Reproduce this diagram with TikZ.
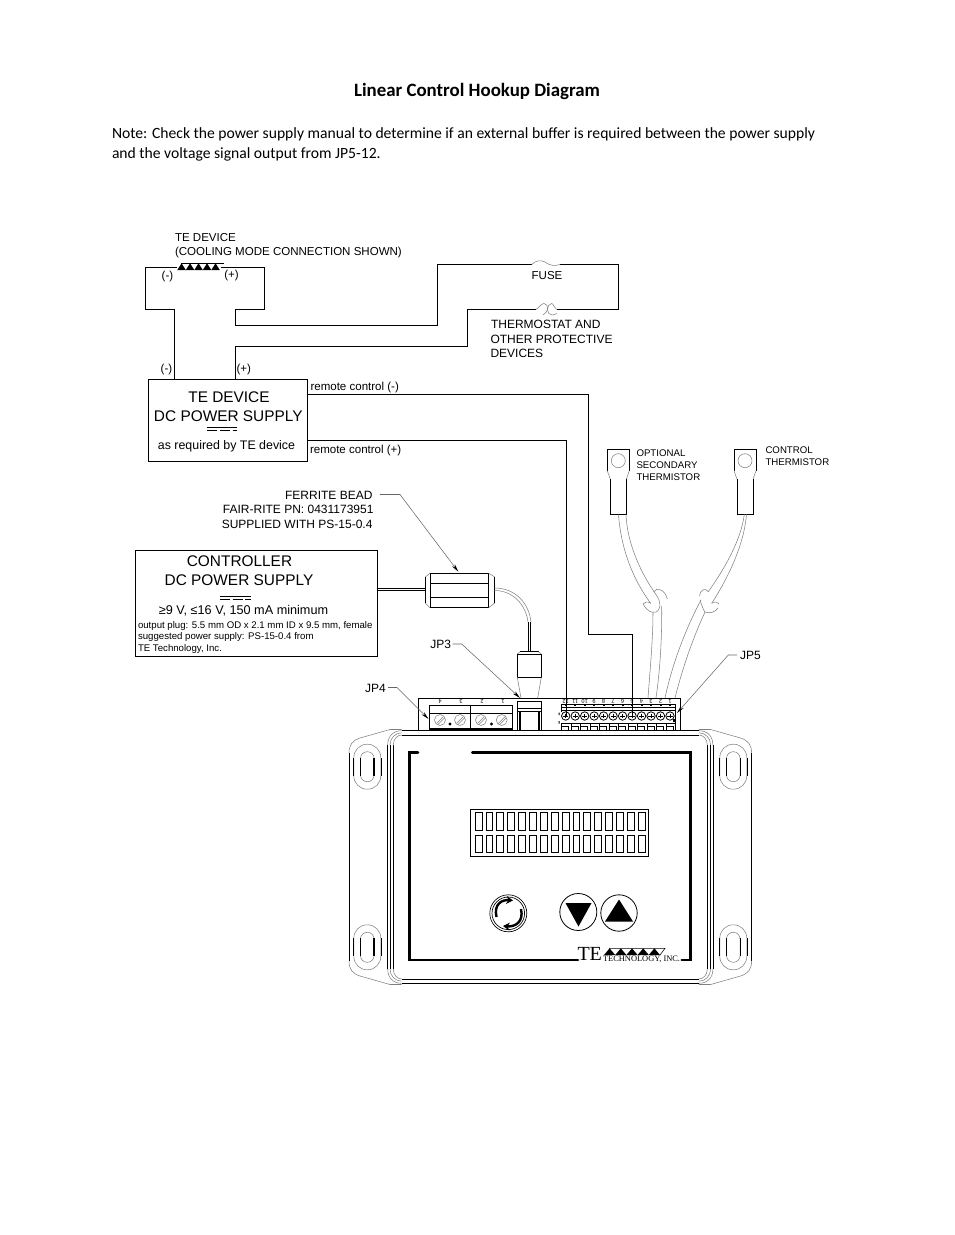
\documentclass[tikz,border=0pt]{standalone}
\usepackage{fontspec}
\setmainfont{Liberation Sans}
\newfontfamily\carlito{Carlito}
\newfontfamily\lserif{Liberation Serif}
\usetikzlibrary{arrows.meta}
\tikzset{
  wire/.style={line width=.75pt,black,line join=miter},
  thin gray/.style={line width=.4pt,black!50},
  leader/.style={line width=.4pt,black!60,-{Stealth[black,length=6pt,width=2.6pt]}},
  txt/.style={inner sep=0pt,outer sep=0pt,text depth=0pt},
  fa/.style={txt,font=\fontsize{8.65}{10}\selectfont,text height=6.2pt},
  fb/.style={txt,font=\fontsize{11.55}{13}\selectfont,text height=8.3pt},
  fc/.style={txt,font=\fontsize{9}{11}\selectfont,text height=6.5pt},
  fcc/.style={txt,font=\fontsize{9.3}{11}\selectfont,text height=6.7pt},
  fcd/.style={txt,font=\fontsize{9.5}{11}\selectfont,text height=6.8pt},
  fd/.style={txt,font=\fontsize{7.23}{8}\selectfont,text height=5.2pt},
  fe/.style={txt,font=\fontsize{7.25}{8}\selectfont,text height=5.2pt},
  ft/.style={txt,font=\fontsize{4.2}{4}\selectfont,text height=3pt,rotate=180},
  box/.style={draw,line width=.75pt,inner sep=0pt,outer sep=0pt},
}
\begin{document}
\begin{tikzpicture}[x=0.75pt,y=-0.75pt]
\useasboundingbox (0,0) rectangle (954,1235);
\fill[white] (0,0) rectangle (954,1235);
% heading
\node[txt,anchor=base] (title) at (477,96.5) {\carlito\bfseries\fontsize{14.15}{18}\selectfont Linear Control Hookup Diagram};
\node[txt,anchor=base west] (note1) at (112,138) {\carlito\fontsize{11.73}{15}\selectfont Note: Check the power supply manual to determine if an external buffer is required between the power supply};
\node[txt,anchor=base west] (note2) at (112,158) {\carlito\fontsize{11.73}{15}\selectfont and the voltage signal output from JP5-12.};
% TE device symbol and labels
\node[fa,anchor=west] (td1) at (175,237.5) {TE DEVICE};
\node[fa,anchor=west] (td2) at (175,251.5) {(COOLING MODE CONNECTION SHOWN)};
\foreach \i in {0,...,4} \fill (177.3+8.5*\i,270) -- ++(8.5,0) -- ++(-4.25,-6.7) -- cycle;
\draw[line width=.5pt] (181,263.4) -- (224,263.4);
\node[fa,anchor=west] (lm1) at (161.7,275) {(-)};
\node[fa,anchor=west] (lp1) at (224.3,274.5) {(+)};
\node[fa,anchor=west] (lm2) at (160.7,368.5) {(-)};
\node[fa,anchor=west] (lp2) at (236.5,368.5) {(+)};
% boxes
\node[box,minimum width=159*0.75pt,minimum height=82*0.75pt] (psu) at (228,420.5) {};
\node[box,minimum width=242*0.75pt,minimum height=106*0.75pt] (ctl) at (256.5,603.5) {};
% PSU text
\node[fb,anchor=center] (p1) at (229,397) {TE DEVICE};
\node[fb,anchor=center] (p2) at (228.3,416) {DC POWER SUPPLY};
\draw[line width=.5pt] (207.3,427.5) -- (237.3,427.5);
\draw[line width=.5pt,dash pattern=on 7.5pt off 2pt] (207.3,430.7) -- (237.3,430.7);
\node[fcc,anchor=center] (p3) at (226.5,445.5) {as required by TE device};
% Controller text
\node[fb,anchor=center] (c1) at (239.5,561) {CONTROLLER};
\node[fb,anchor=center] (c2) at (239,579.5) {DC POWER SUPPLY};
\draw[line width=.5pt] (220,596.7) -- (250.7,596.7);
\draw[line width=.5pt,dash pattern=on 7.5pt off 2pt] (220,599.2) -- (250.7,599.2);
\node[fcd,anchor=center] (c3) at (243.5,610) {≥9 V, ≤16 V, 150 mA minimum};
\node[fd,anchor=west] (c4) at (138,625) {output plug: 5.5 mm OD x 2.1 mm ID x 9.5 mm, female};
\node[fd,anchor=west] (c5) at (138,636) {suggested power supply: PS-15-0.4 from};
\node[fd,anchor=west] (c6) at (138,648) {TE Technology, Inc.};
% Named wire ends
\coordinate (tem) at (177.3,267.5);
\coordinate (tep) at (220.5,267.5);
\coordinate (psum) at (psu.north -| 174.5,0);
\coordinate (psup) at (psu.north -| 235.5,0);
\coordinate (rcm) at (psu.east |- 0,394.5);
\coordinate (rcp) at (psu.east |- 0,440.5);
\coordinate (fa) at (531.7,264.5);
\coordinate (fb) at (560,264.5);
\coordinate (tha) at (536,309.5);
\coordinate (thb) at (556.7,309.5);
\coordinate (s12) at (566.5,716);
\coordinate (s5) at (632.5,716);
% wires
\draw[wire] (tem) -- (145.5,267.5) -- (145.5,309.5) -- (174.5,309.5) -- (psum);
\draw[wire] (tep) -- (264.5,267.5) -- (264.5,309.5) -- (235.5,309.5) -- (235.5,325.5) -- (437.5,325.5) -- (437.5,264.5) -- (fa);
\draw[wire] (fb) -- (618.5,264.5) -- (618.5,309.5) -- (thb);
\draw[wire] (tha) -- (467.5,309.5) -- (467.5,346.5) -- (235.5,346.5) -- (psup);
\draw[wire] (rcm) -- (588.5,394.5) -- (588.5,634.5) -- (632.5,634.5) -- (s5);
\draw[wire] (rcp) -- (566.5,440.5) -- (s12);
\draw[thin gray] (fa) .. controls (536,260) and (541,260) .. (545,262) .. controls (550,266) and (555,266) .. (fb);
\draw[thin gray] (tha) .. controls (539,308) and (541,303.5) .. (544,303.5) .. controls (549,304) and (549,312) .. (543,315);
\draw[thin gray] (thb) .. controls (554,307) and (553,303.5) .. (551.7,303.5) .. controls (546,304) and (546,315) .. (552,315) .. controls (553.5,315) and (555,314.5) .. (556.7,313.5);
\node[fa,anchor=center] (fuse) at (547,275) {FUSE};
\node[fc,anchor=west] (th1) at (491,324) {THERMOSTAT AND};
\node[fc,anchor=west] (th2) at (490.5,339) {OTHER PROTECTIVE};
\node[fc,anchor=west] (th3) at (490.5,353) {DEVICES};
\node[fa,anchor=west] (rc1) at (310.5,386.5) {remote control (-)};
\node[fa,anchor=west] (rc2) at (310,449) {remote control (+)};
% Ferrite
\node[fc,anchor=east] (fr1) at (372.5,495) {FERRITE BEAD};
\node[fc,anchor=east] (fr2) at (373.5,509.5) {FAIR-RITE PN: 0431173951};
\node[fc,anchor=east] (fr3) at (372.5,524) {SUPPLIED WITH PS-15-0.4};
\draw[leader] (380,494.5) -- (400,494.5) -- (458.3,571.7);
\draw[line width=.6pt] (430,573.3) rectangle (488.7,607.7);
\draw[line width=.6pt] (430,583.3) -- (488.7,583.3) (430,597.3) -- (488.7,597.3);
\draw[line width=.6pt] (425.3,577) -- (425.3,603) (494.7,577) -- (494.7,603);
\draw[thin gray] (425.3,577) -- (430,573.3) (425.3,603) -- (430,607.7) (494.7,577) -- (488.7,573.3) (494.7,603) -- (488.7,607.7);
\draw[line width=.5pt] (ctl.east |- 0,588.3) -- (425.3,588.3) (ctl.east |- 0,590.6) -- (425.3,590.6);
\draw[thin gray] (494.7,588) .. controls (515,588) and (529,603) .. (531,622);
\draw[thin gray] (494.7,590.5) .. controls (513,590.5) and (526,605) .. (528,622);
\draw[line width=.6pt] (528.2,622) -- (528.2,652) (530.4,622) -- (530.4,652);
% Plug
\draw[line width=.6pt] (517.3,654) rectangle (541.3,677.3);
\draw[line width=.8pt] (520,651.7) -- (538.5,651.7);
\draw[thin gray] (517.3,654) -- (520,651.7) (541.3,654) -- (538.5,651.7);
\draw[thin gray] (517.3,677.3) -- (521,698) (541.3,677.3) -- (537.7,698);
% connector board
\draw[line width=.6pt] (418.3,730) -- (418.3,698.3) -- (680.7,698.3) -- (680.7,730);
% JP3
\draw[line width=.7pt] (517.3,730) -- (517.3,701.7) -- (541.7,701.7) -- (541.7,730);
\draw[line width=.5pt] (517.3,708) -- (541.7,708) (517.3,711.7) -- (541.7,711.7);
\draw[line width=.8pt] (520,730) -- (520,712) (539,730) -- (539,712);
% JP4
\draw[line width=.6pt] (429.3,729.3) -- (429.3,705.7) -- (512.7,705.7) -- (512.7,729.3);
\draw[line width=1.3pt] (429.3,729.3) -- (512.7,729.3);
\draw[line width=.6pt] (429.3,713.3) -- (512.7,713.3) (470.3,705.7) -- (470.3,729.3);
\foreach \x in {440,460,481,501.7} {
  \draw[thin gray] (\x,720) circle[radius=5.5*0.75pt];
  \draw[thin gray] ({\x-3.5},723.5) -- ({\x+3.5},716.5) ({\x-2},724.5) -- ({\x+4.5},718);
}
\fill (450,724) circle[radius=1.2pt] (491.5,724) circle[radius=1.2pt];
\foreach \x/\n in {440/4,461/3,482/2,503/1} \node[ft] (jf\n) at (\x,701.5) {\n};
% JP5
\foreach \i/\n in {0/12,1/11,2/10,3/9,4/8,5/7,6/6,7/5,8/4,9/3,10/2,11/1} {
  \pgfmathsetmacro\xx{565.7+9.48*\i}
  \node[ft] (jg\n) at (\xx,701.5) {\n};
  \draw[line width=.6pt] (\xx,716) circle[radius=4.2*0.75pt];
  \draw[line width=.7pt] ({\xx-2.6},716) -- ({\xx+2.6},716) (\xx,713.6) -- (\xx,718.4);
  \draw[line width=.4pt] ({\xx-4},723.3) -- ({\xx-4},730) ({\xx+3},726) -- ({\xx+3},730) ({\xx-4},726) -- ({\xx+3},726);
  \fill ({\xx-1},704.2) rectangle ({\xx+1},705.6);
}
\draw[line width=.5pt] (561.7,704.3) -- (675.7,704.3);
\draw[line width=.5pt] (561.7,707) -- (675.7,707);
\draw[line width=.9pt] (561.7,710.5) -- (675.7,710.5);
\draw[line width=.5pt] (561.7,723.3) -- (675.7,723.3);
\draw[line width=.5pt] (675.7,704.3) -- (675.7,730);
\draw[line width=.5pt] (561.7,704.3) -- (561.7,712);
\fill (558.7,712.5) rectangle (559.7,715) (558.7,721) rectangle (559.7,723.5) (673,719) rectangle (675,722);
% Leaders
\node[fc,anchor=west] (jp3) at (430.3,644.5) {JP3};
\node[fc,anchor=west] (jp4) at (365,688.5) {JP4};
\node[fc,anchor=west] (jp5) at (740,655) {JP5};
\draw[leader] (452.5,644) -- (461.7,644) -- (520,698);
\draw[leader] (388,687.5) -- (397,687.5) -- (428.5,719);
\draw[leader] (737,655) -- (728.3,655) -- (677,713);
% Enclosure corners
\foreach \sx in {1,-1} \foreach \sy in {1,-1} {
\begin{scope}[shift={(550.3,857)},xscale=\sx,yscale=\sy]
  \draw[thin gray] (-201.3,-104) .. controls (-201.3,-112) and (-198,-116.5) .. (-190.3,-119) -- (-160.3,-127.5) -- (-148.6,-127.5);
  \draw[line width=.7pt] (-201.3,-104) -- (-201.3,0);
  \draw[line width=.6pt] (-162.6,-112) -- (-162.6,0) (-160.3,-112) -- (-160.3,0) (-157,-112) -- (-157,0);
  \draw[thin gray] (-162.6,-112) .. controls (-162.6,-121) and (-157,-126.3) .. (-148.6,-126.3);
  \draw[thin gray] (-160.3,-112) .. controls (-160.3,-119) and (-155,-124.2) .. (-148.6,-124.2);
  \draw[thin gray] (-157,-112) .. controls (-157,-118) and (-153,-122) .. (-148.6,-122);
  \draw[line width=.8pt] (-148.6,-126.3) -- (0,-126.3);
  \draw[line width=.7pt] (-148.6,-122) -- (0,-122);
  \draw[thin gray,rounded corners=10pt] (-196.5,-112.8) rectangle (-169.5,-67.8);
  \draw[thin gray,rounded corners=5pt] (-189.8,-105.3) rectangle (-176.2,-75.3);
  \draw[line width=.6pt] (-197,-99) -- (-197,-81);
  \draw[line width=.9pt] (-169,-99) -- (-169,-81);
  \draw[line width=.6pt] (-189.8,-99) -- (-189.8,-81);
  \draw[line width=1pt] (-176.2,-99) -- (-176.2,-81);
\end{scope}
}
% thick frame
\draw[line width=1.9pt,line cap=round] (418,752.7) -- (409.3,752.7) -- (409.3,960) -- (578,960);
\draw[line width=1.9pt,line cap=round] (472.3,752.7) -- (690.5,752.7) -- (690.5,960) -- (681.7,960);
% LCD
\draw[line width=.5pt] (470,809.3) rectangle (648.3,856.3);
\foreach \i in {0,...,15} {
  \draw[line width=.5pt] (475+10.87*\i,812.3) rectangle +(6.9,18);
  \draw[line width=.5pt] (475+10.87*\i,835) rectangle +(6.9,17.7);
}
% Buttons
\draw[line width=.5pt] (508.3,913.3) circle[radius=18.5*0.75pt];
\draw[line width=.5pt] (508.3,913.3) circle[radius=16.3*0.75pt];
\draw[line width=1.8pt,-{Stealth[length=5pt,width=6pt]}] (496.5,917) .. controls (493.5,904) and (502,899.5) .. (513,900.5);
\draw[line width=1.8pt,-{Stealth[length=5pt,width=6pt]}] (521,909) .. controls (524,922) and (515,927) .. (503,926);
\draw[line width=.6pt] (578.3,912) circle[radius=18.5*0.75pt];
\fill (565.5,903) -- (591.5,903) -- (578.5,926.5) -- cycle;
\draw[line width=.6pt] (619,913) circle[radius=18.2*0.75pt];
\fill (605,921.5) -- (633,921.5) -- (619,899.5) -- cycle;
% Logo
\node[txt,anchor=base west] (logote) at (577.5,960.3) {\lserif\fontsize{15}{15}\selectfont TE};
\foreach \i in {0,...,4} \fill (604+11.2*\i,955) -- ++(11.2,0) -- ++(-5.6,-6.7) -- cycle;
\draw[line width=.4pt] (609,948.3) -- (665,948.3) -- (660,955);
\node[txt,anchor=base west] (logotx) at (603,961) {\lserif\fontsize{6.3}{7}\selectfont TECHNOLOGY, INC.};
% Thermistors
\foreach \cx/\w/\t/\h in {618.3/11/o/7,745/11/c/7} {
  \draw[line width=.7pt] ({\cx-\w-0},470.7) -- ({\cx-\w},449.3) -- ({\cx+\w},449.3) -- ({\cx+\w},470.7);
  \draw[thin gray] ({\cx-\w},470.7) -- ({\cx-8},479.3) ({\cx+\w},470.7) -- ({\cx+8},479.3);
  \draw[line width=.7pt] ({\cx-8},479.3) -- ({\cx-8},514.5) -- ({\cx+8},514.5) -- ({\cx+8},479.3);
  \draw[thin gray] (\cx,460.7) circle[radius=\h*0.75pt];
}
\node[fe,anchor=west] (o1) at (636.5,453.5) {OPTIONAL};
\node[fe,anchor=west] (o2) at (636.5,465.5) {SECONDARY};
\node[fe,anchor=west] (o3) at (636.5,477) {THERMISTOR};
\node[fe,anchor=west] (k1) at (765.5,450.5) {CONTROL};
\node[fe,anchor=west] (k2) at (765.5,462) {THERMISTOR};
% Thermistor wires
\draw[thin gray] (618.5,514.5) .. controls (621,548) and (632,578) .. (650.7,603.3);
\draw[thin gray] (626,514.5) .. controls (627,540) and (638,568) .. (654,591.7);
\draw[thin gray] (654,591.7) .. controls (656,587) and (665,589) .. (667.3,599);
\draw[thin gray] (650.7,603.3) .. controls (647,601) and (645,602) .. (643,604);
\draw[thin gray] (643,604) .. controls (648,613) and (656,615) .. (659,609) .. controls (662,602) and (657,596) .. (654,591.7);
\draw[thin gray] (653,612) .. controls (653,640) and (650,670) .. (648,698);
\draw[thin gray] (661.7,606) .. controls (662,640) and (660,670) .. (656,698);
\draw[thin gray] (744.3,514.5) .. controls (741,540) and (725,568) .. (708.3,591.7);
\draw[thin gray] (746.5,514.5) .. controls (744,545) and (728,578) .. (711.7,603.3);
\draw[thin gray] (708.3,591.7) .. controls (705,587) and (700,590) .. (699.5,596);
\draw[thin gray] (711.7,603.3) .. controls (715,601) and (718,602) .. (719,604);
\draw[thin gray] (700,600) .. controls (703,610) and (705,612) .. (705,612) .. controls (710,614) and (715,612) .. (718,608);
\draw[thin gray] (701,600) .. controls (685,630) and (672,665) .. (665,698);
\draw[thin gray] (705,612) .. controls (692,640) and (682,670) .. (675,698);
\end{tikzpicture}
\end{document}
